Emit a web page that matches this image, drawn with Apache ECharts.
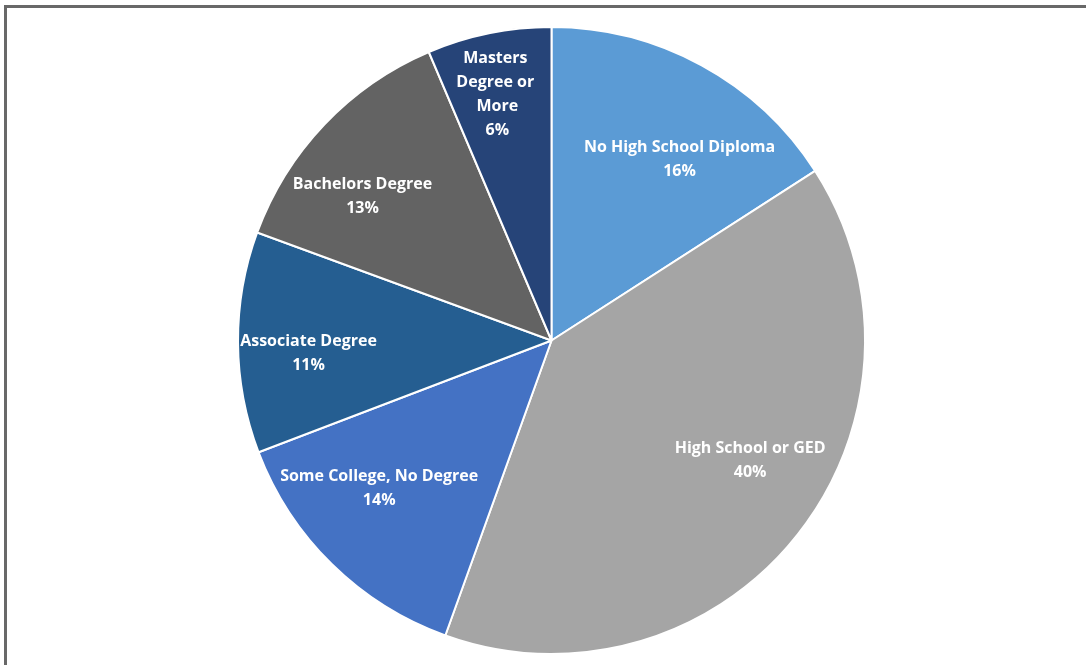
<!DOCTYPE html>
<html>
<head>
<meta charset="utf-8">
<script src="https://cdn.jsdelivr.net/npm/echarts@6/dist/echarts.min.js"></script>
<style>
  html, body { margin: 0; padding: 0; width: 1086px; height: 665px; overflow: hidden; background: #fff; }
  #frame { position: absolute; left: 4px; top: 5px; width: 1300px; height: 900px; border: 3px solid #686868; box-sizing: border-box; }
  #chart { position: absolute; left: 0; top: 0; width: 1086px; height: 665px; }
</style>
</head>
<body>
<div id="frame"></div>
<div id="chart"></div>
<script>
// Categories in clockwise order from 12 o'clock
const categories = [
  'No High School Diploma',
  'High School or GED',
  'Some College, No Degree',
  'Associate Degree',
  'Bachelors Degree',
  'Masters Degree or More'
];
// Share of population (%)
const values = [15.9, 39.6, 13.7, 11.4, 13.0, 6.4];
const colors = ['#5B9BD5', '#A5A5A5', '#4472C4', '#255E91', '#636363', '#264478'];

const chart = echarts.init(document.getElementById('chart'), null, { renderer: 'canvas' });

const center = [551.5, 340.5];
const R = 313.5;
// small label nudges (px) to mimic the original label placement
const labelNudge = [[15, 26], [14, -27], [-7, -21], [-7, 11], [-18, 19], [-7, -15]];

const pieData = categories.map((name, i) => ({
  name: name,
  value: values[i],
  itemStyle: { color: colors[i] }
}));

const labelData = categories.map((name, i) => {
  const item = { name: name, value: values[i] };
  if (i === 5) {
    item.label = { width: 84, overflow: 'break' };
  }
  return item;
});

chart.setOption({
  animation: false,
  series: [
    {
      type: 'pie',
      center: center,
      radius: [0, R],
      startAngle: 90,
      clockwise: true,
      silent: true,
      label: { show: false },
      labelLine: { show: false },
      itemStyle: { borderColor: '#ffffff', borderWidth: 2 },
      data: pieData
    },
    {
      type: 'pie',
      center: center,
      radius: [0, 466],
      startAngle: 90,
      clockwise: true,
      silent: true,
      itemStyle: { color: 'rgba(0,0,0,0)', borderWidth: 0 },
      labelLine: { show: false },
      label: {
        show: true,
        position: 'inside',
        color: '#ffffff',
        fontFamily: '"Open Sans", sans-serif',
        fontWeight: 'bold',
        fontSize: 16,
        lineHeight: 24,
        align: 'center',
        formatter: p => p.name + '\n' + Math.round(p.value) + '%'
      },
      labelLayout: function (params) {
        const n = labelNudge[params.dataIndex];
        return { dx: n[0], dy: n[1] };
      },
      data: labelData
    }
  ]
});
</script>
</body>
</html>
